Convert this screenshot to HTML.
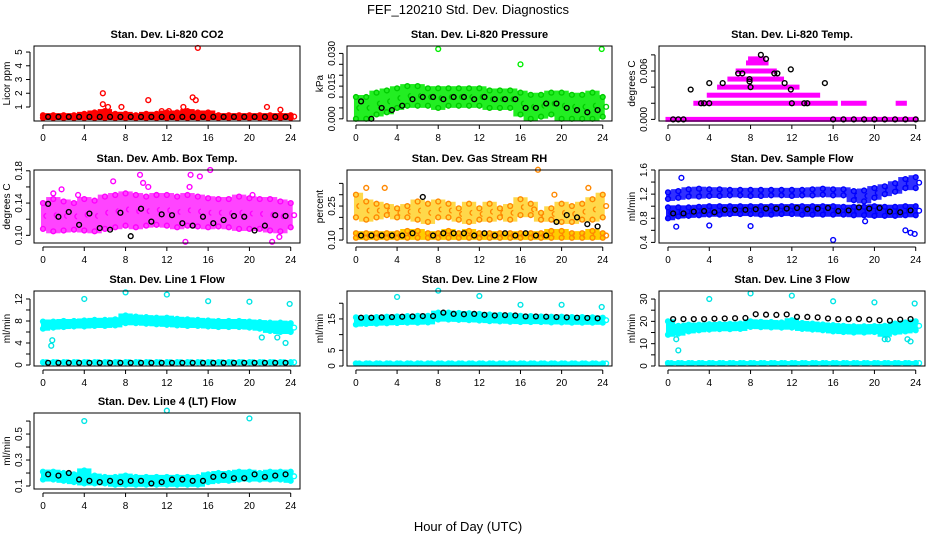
<!DOCTYPE html>
<html><head><meta charset="utf-8"><style>
body{margin:0;background:#fff;}
svg{display:block;font-family:"Liberation Sans",Arial,sans-serif;}
</style></head><body>
<svg id="chart" width="936" height="540" viewBox="0 0 936 540">
<text x="468" y="14" text-anchor="middle" font-size="13">FEF_120210  Std. Dev. Diagnostics</text>
<text x="468" y="531" text-anchor="middle" font-size="13">Hour of Day (UTC)</text>
</svg>
<script>
// ---- data ----
const hours = [0,1,2,3,4,5,6,7,8,9,10,11,12,13,14,15,16,17,18,19,20,21,22,23,24];
const blackHours = [0.5,1.5,2.5,3.5,4.5,5.5,6.5,7.5,8.5,9.5,10.5,11.5,12.5,13.5,14.5,15.5,16.5,17.5,18.5,19.5,20.5,21.5,22.5,23.5];
const xTicks = [0,4,8,12,16,20,24];

const co2Lo = [0.2,0.2,0.2,0.2,0.2,0.2,0.2,0.2,0.2,0.2,0.2,0.2,0.2,0.2,0.2,0.2,0.2,0.2,0.2,0.2,0.2,0.2,0.2,0.2,0.2];
const co2Hi = [0.4,0.4,0.4,0.4,0.5,0.6,0.7,0.5,0.5,0.4,0.5,0.5,0.6,0.6,0.7,0.6,0.6,0.4,0.4,0.4,0.4,0.4,0.4,0.4,0.4];
const co2Black = [0.28,0.28,0.28,0.28,0.28,0.28,0.28,0.28,0.28,0.28,0.28,0.28,0.28,0.28,0.28,0.28,0.28,0.28,0.28,0.28,0.28,0.28,0.28,0.28];
const co2OutT = [5.8,5.8,6.3,7.6,10.2,11.5,12.2,13.6,14.5,14.8,15,21.7,23];
const co2OutV = [2.0,1.2,1.0,1.0,1.5,0.7,0.7,1.0,1.7,1.5,5.3,1.0,0.8];

const presLo = [0,0,0.002,0.003,0.005,0.006,0.006,0.006,0.005,0.006,0.006,0.006,0.006,0.005,0.005,0.005,0.002,0,0.001,0.002,0,0,0,0,0.001];
const presHi = [0.010,0.010,0.012,0.013,0.014,0.015,0.015,0.014,0.014,0.014,0.014,0.014,0.014,0.013,0.013,0.013,0.012,0.011,0.011,0.012,0.012,0.011,0.011,0.012,0.010];
const presBlack = [0.008,0.000,0.005,0.004,0.006,0.009,0.010,0.010,0.009,0.010,0.010,0.009,0.010,0.009,0.009,0.009,0.005,0.005,0.007,0.007,0.005,0.004,0.003,0.004];
const presOutT = [8,16,23.9];
const presOutV = [0.032,0.025,0.032];

const tempRowV = [0,0.002,0.002,0.002,0.002,0.003,0.004,0.005,0.006,0.007,0.0075];
const tempRowStart = [0,2.7,12,17,22.3,4,5,6,6.8,7.8,8];
const tempRowEnd = [24,12,16.2,19,22.9,14.5,12.5,11,10.3,9.5,9.2];
const tempBlackT = [0.5,1,1.5,2.2,3.2,3.5,4,4,5.3,6.8,7.2,7.9,7.9,8,9,9.5,10.3,10.6,11.3,11.9,11.9,12,13.2,13.5,15.2,16,17,18,19,20,21,22,23,24];
const tempBlackV = [0,0,0,0.0037,0.002,0.002,0.002,0.0045,0.0045,0.0057,0.0057,0.005,0.0047,0.004,0.008,0.0075,0.0057,0.0057,0.0045,0.0062,0.0037,0.002,0.002,0.002,0.0045,0,0,0,0,0,0,0,0,0];

const ambLo = [0.108,0.105,0.106,0.107,0.106,0.105,0.108,0.110,0.112,0.110,0.112,0.113,0.112,0.110,0.112,0.111,0.110,0.111,0.110,0.108,0.108,0.108,0.106,0.105,0.110];
const ambHi = [0.140,0.145,0.142,0.140,0.145,0.143,0.148,0.150,0.152,0.150,0.148,0.150,0.150,0.148,0.150,0.148,0.146,0.145,0.145,0.148,0.146,0.145,0.145,0.142,0.140];
const ambBlack = [0.139,0.123,0.129,0.113,0.127,0.109,0.107,0.128,0.099,0.133,0.117,0.126,0.125,0.115,0.112,0.123,0.115,0.119,0.124,0.123,0.106,0.112,0.125,0.124];
const ambOutT = [1,1.8,3.4,6.8,9.4,9.7,10.2,11,14.2,14.3,15.2,16.2,13.8,20.3,22.2,22.9];
const ambOutV = [0.152,0.157,0.150,0.167,0.175,0.165,0.160,0.150,0.160,0.175,0.173,0.181,0.092,0.150,0.092,0.098];

const rhLo1 = [0.11,0.11,0.11,0.11,0.11,0.11,0.11,0.11,0.11,0.11,0.11,0.11,0.11,0.11,0.11,0.11,0.11,0.11,0.11,0.11,0.11,0.11,0.11,0.11,0.11];
const rhHi1 = [0.13,0.13,0.13,0.13,0.13,0.14,0.14,0.13,0.13,0.14,0.13,0.14,0.13,0.13,0.13,0.13,0.13,0.13,0.13,0.14,0.14,0.13,0.13,0.14,0.13];
const rhLo2 = [0.20,0.19,0.20,0.21,0.20,0.20,0.19,0.18,0.20,0.20,0.19,0.18,0.19,0.19,0.20,0.19,0.21,0.21,0.19,0.19,0.18,0.18,0.19,0.19,0.20];
const rhHi2 = [0.30,0.27,0.26,0.25,0.24,0.25,0.27,0.26,0.27,0.26,0.24,0.26,0.24,0.26,0.24,0.25,0.28,0.26,0.22,0.24,0.26,0.25,0.26,0.28,0.30];
const rhBlack = [0.12,0.12,0.12,0.12,0.12,0.13,0.29,0.12,0.13,0.13,0.13,0.12,0.13,0.12,0.13,0.12,0.13,0.12,0.12,0.18,0.21,0.20,0.17,0.16];
const rhOutT = [1,2.8,17.7,19.3,22.6];
const rhOutV = [0.33,0.33,0.41,0.30,0.33];

const sfLoA = [0.80,0.83,0.84,0.85,0.86,0.86,0.87,0.87,0.87,0.86,0.86,0.87,0.87,0.86,0.86,0.86,0.86,0.86,0.85,0.85,0.84,0.84,0.84,0.85,0.85];
const sfHiA = [0.98,0.98,0.98,0.99,1.00,1.00,1.00,1.00,1.00,1.00,1.00,1.00,1.00,1.00,1.00,1.00,1.00,0.99,0.99,0.99,1.00,0.99,0.99,1.00,1.00];
const sfLoB = [1.12,1.14,1.16,1.16,1.17,1.17,1.18,1.18,1.17,1.17,1.18,1.18,1.17,1.18,1.18,1.19,1.18,1.18,1.10,1.08,1.14,1.20,1.24,1.30,1.30];
const sfHiB = [1.23,1.25,1.28,1.29,1.28,1.28,1.27,1.27,1.27,1.27,1.27,1.27,1.27,1.27,1.28,1.29,1.28,1.28,1.25,1.26,1.30,1.33,1.38,1.45,1.48];
const sfBlack = [0.88,0.88,0.91,0.92,0.90,0.94,0.94,0.94,0.95,0.96,0.96,0.96,0.97,0.95,0.96,0.97,0.92,0.93,0.98,0.96,0.97,0.91,0.90,0.93];
const sfOutT = [0.8,1.3,4,8,16,19.1,23,23.5,23.9];
const sfOutV = [0.66,1.47,0.68,0.67,0.44,0.75,0.60,0.56,0.54];

const l1Lo = [6.6,6.8,6.9,7.0,7.0,7.1,7.1,7.2,7.6,7.6,7.5,7.4,7.3,7.2,7.1,7.1,7.0,6.9,6.9,6.9,6.8,6.6,6.2,6.0,6.0];
const l1Hi = [7.9,7.9,8.0,8.0,8.1,8.2,8.2,8.3,9.0,8.8,8.7,8.6,8.6,8.4,8.3,8.2,8.1,8.0,8.0,8.0,7.9,7.8,7.7,7.7,7.6];
const l1Base = [0.5,0.5,0.5,0.5,0.5,0.5,0.5,0.5,0.5,0.5,0.5,0.5,0.5,0.5,0.5,0.5,0.5,0.5,0.5,0.5,0.5,0.5,0.5,0.5,0.5];
const l1Black = [0.4,0.4,0.4,0.4,0.4,0.4,0.4,0.4,0.4,0.4,0.4,0.4,0.4,0.4,0.4,0.4,0.4,0.4,0.4,0.4,0.4,0.4,0.4,0.4];
const l1OutT = [4,8,12,16,20,23.9,0.8,0.9,21.2,22.7,23.5];
const l1OutV = [12,13.2,12.8,11.6,11.5,11.1,3.5,4.5,5,5,4];

const l2Lo = [13.2,13.4,13.5,13.6,13.7,13.8,13.8,13.9,14.8,14.8,14.7,14.6,14.5,14.3,14.2,14.1,14.0,14.0,14.0,13.9,13.9,13.8,13.8,13.8,13.8];
const l2Hi = [15.5,15.5,15.6,15.7,15.8,15.9,16.0,16.0,17.0,17.0,16.9,16.8,16.6,16.4,16.3,16.2,16.0,15.9,15.8,15.7,15.7,15.6,15.6,15.5,15.4];
const l2Base = [0.8,0.8,0.8,0.8,0.8,0.8,0.8,0.8,0.8,0.8,0.8,0.8,0.8,0.8,0.8,0.8,0.8,0.8,0.8,0.8,0.8,0.8,0.8,0.8,0.8];
const l2Black = [15.4,15.4,15.5,15.6,15.7,15.8,15.9,15.9,17.0,16.6,16.5,16.6,16.3,16.1,16.2,16.1,15.8,15.8,15.7,15.6,15.5,15.4,15.3,15.2];
const l2OutT = [4,8,12,16,20,23.9];
const l2OutV = [22,24,22.3,19.5,19.5,18.8];

const l3Lo = [14,14.5,15.5,16,16.3,16.5,16.5,16.6,17.5,17.4,17.3,17.2,17.2,16.6,16.3,16.0,15.5,15.2,15.0,15.0,15.2,14.0,15.0,15.5,16];
const l3Hi = [20,18,18.5,18.5,18.7,18.8,18.9,19.0,20.0,19.8,19.7,19.5,20.5,19.3,19.0,18.6,18.3,18.0,17.8,17.8,17.9,18.0,19.0,19.5,20];
const l3Base = [1.3,1.3,1.3,1.3,1.3,1.3,1.3,1.3,1.3,1.3,1.3,1.3,1.3,1.3,1.3,1.3,1.3,1.3,1.3,1.3,1.3,1.3,1.3,1.3,1.3];
const l3Black = [21,21,21,21,21.2,21.3,21.4,21.5,23.2,23,22.9,23.1,22,22,21.8,21.3,21,21,21.1,20.8,20.5,20.3,20.8,21];
const l3OutT = [4,8,12,16,20,23.9,0.8,1,21,21.3,23.2,23.5];
const l3OutV = [30,32.5,31.5,29,28.5,28,12,7,12,12,12,11];

const l4Lo = [0.15,0.15,0.14,0.13,0.12,0.12,0.12,0.11,0.11,0.11,0.11,0.11,0.11,0.11,0.11,0.11,0.13,0.14,0.14,0.15,0.15,0.15,0.15,0.15,0.14];
const l4Hi = [0.21,0.21,0.20,0.19,0.22,0.18,0.17,0.17,0.18,0.17,0.17,0.17,0.17,0.17,0.17,0.17,0.19,0.20,0.20,0.21,0.21,0.20,0.21,0.21,0.21];
const l4Black = [0.19,0.18,0.20,0.15,0.14,0.13,0.14,0.13,0.14,0.14,0.12,0.13,0.15,0.15,0.14,0.14,0.17,0.18,0.16,0.16,0.19,0.17,0.18,0.19];
const l4OutT = [4,12,20];
const l4OutV = [0.6,0.68,0.62];

// ---- layout ----
const svg = document.getElementById('chart');
const NS = 'http://www.w3.org/2000/svg';
const cols = [[34,300],[347,612],[659,925]];
const rows = [[46,121],[170,243],[291,366],[413,489]];
const XMIN = -0.87, XMAX = 24.9;

function mk(tag, attrs, parent){
  const e = document.createElementNS(NS, tag);
  for (const k in attrs) e.setAttribute(k, attrs[k]);
  (parent||svg).appendChild(e);
  return e;
}

function panel(opts){
  const [x0,x1] = cols[opts.col], [y0,y1] = rows[opts.row];
  const sx = v => x0 + (v - XMIN) / (XMAX - XMIN) * (x1 - x0);
  const sy = v => y1 - (v - opts.ymin) / (opts.ymax - opts.ymin) * (y1 - y0);
  const g = mk('g', {});
  
  
  const t = mk('text', {x:(x0+x1)/2, y:y0-8, 'text-anchor':'middle', 'font-size':11, 'font-weight':'bold'}, g);
  t.textContent = opts.title;
  
  
  const marks = mk('g', {}, g);
  
  
  const circ = (tv, v, col) => {
    const c = mk('circle', {cx:sx(tv), cy:sy(v), r:2.4, fill:'none', stroke:col, 'stroke-width':1.4}, marks);
    
    
  };
  (opts.bands||[]).forEach(b => {
    hours.forEach((h,i) => {
      const a = Math.max(0, h-0.5), z = Math.min(24, h+0.5);
      const lo = b.lo[i], hi = b.hi[i];
      const r = mk('rect', {x:sx(a)-2, y:sy(hi)-2, width:sx(z)-sx(a)+4, height:Math.max(4, sy(lo)-sy(hi)+4), fill:b.fill||b.color}, marks);
      
      
      circ(h, lo, b.color); circ(h, hi, b.color);
      circ(h+0.33, (lo+hi)/2, b.color);
    });
  });
  (opts.rowsSeg||[]).forEach(s => {
    const r = mk('rect', {x:sx(s.a)-2.5, y:sy(s.v)-2.5, width:sx(s.b)-sx(s.a)+5, height:5, fill:s.color, stroke:'none'}, marks);
    
    
  });
  (opts.out||[]).forEach(o => o.t.forEach((tv,i) => circ(tv, o.v[i], o.color)));
  (opts.black||[]).forEach(o => o.t.forEach((tv,i) => circ(tv, o.v[i], '#000')));
  // box
  const box = mk('rect', {x:x0, y:y0, width:x1-x0, height:y1-y0, fill:'none', stroke:'#000', 'stroke-width':1}, g);
  
  
  // x axis
  const xa = mk('g', {}, g);
  
  
  mk('line', {x1:sx(0), x2:sx(24), y1:y1+4, y2:y1+4, stroke:'#000'}, xa);
  xTicks.forEach(v => {
    mk('line', {x1:sx(v), x2:sx(v), y1:y1+4, y2:y1+8, stroke:'#000'}, xa);
    const tt = mk('text', {x:sx(v), y:y1+20, 'text-anchor':'middle', 'font-size':10}, xa);
    tt.textContent = v;
  });
  // y axis
  const ya = mk('g', {}, g);
  
  
  const yt = opts.yticks;
  mk('line', {x1:x0-4, x2:x0-4, y1:sy(yt[0]), y2:sy(yt[yt.length-1]), stroke:'#000'}, ya);
  yt.forEach(v => mk('line', {x1:x0-8, x2:x0-4, y1:sy(v), y2:sy(v), stroke:'#000'}, ya));
  opts.ylabels.forEach((v,i) => {
    const yy = sy(v), xx = x0-12;
    const tt = mk('text', {x:xx, y:yy, 'text-anchor':'middle', 'font-size':10, transform:`rotate(-90 ${xx} ${yy})`}, ya);
    tt.textContent = opts.ylabelText[i];
  });
  const yl = mk('text', {x:x0-24, y:(y0+y1)/2, 'text-anchor':'middle', 'font-size':10, transform:`rotate(-90 ${x0-24} ${(y0+y1)/2})`}, g);
  yl.textContent = opts.ylab;
  
  
}

panel({col:0,row:0,name:'co2',title:'Stan. Dev. Li-820 CO2',ylab:'Licor ppm',ymin:-0.02,ymax:5.44,
  yticks:[1,2,3,4,5],ylabels:[1,2,3,4,5],ylabelText:['1','2','3','4','5'],
  bands:[{lo:co2Lo,hi:co2Hi,color:'#ff0000'}],out:[{t:co2OutT,v:co2OutV,color:'#ff0000'}],black:[{t:blackHours,v:co2Black}]});
panel({col:1,row:0,name:'pressure',title:'Stan. Dev. Li-820 Pressure',ylab:'kPa',ymin:-0.001,ymax:0.0334,
  yticks:[0,0.005,0.01,0.015,0.02,0.025,0.03],ylabels:[0,0.015,0.03],ylabelText:['0.000','0.015','0.030'],
  bands:[{lo:presLo,hi:presHi,color:'#00cc00',fill:'#22ee22'}],out:[{t:presOutT,v:presOutV,color:'#00ee00'}],black:[{t:blackHours,v:presBlack}]});
panel({col:2,row:0,name:'li820-temp',title:'Stan. Dev. Li-820 Temp.',ylab:'degrees C',ymin:-0.0002,ymax:0.0091,
  yticks:[0,0.002,0.004,0.006,0.008],ylabels:[0,0.006],ylabelText:['0.000','0.006'],
  rowsSeg:tempRowV.map((v,i)=>({v:v,a:tempRowStart[i],b:tempRowEnd[i],color:'#ff00ff'})),
  black:[{t:tempBlackT,v:tempBlackV}]});
panel({col:0,row:1,name:'amb-box-temp',title:'Stan. Dev. Amb. Box Temp.',ylab:'degrees C',ymin:0.0905,ymax:0.181,
  yticks:[0.1,0.12,0.14,0.16,0.18],ylabels:[0.1,0.14,0.18],ylabelText:['0.10','0.14','0.18'],
  bands:[{lo:ambLo,hi:ambHi,color:'#ff00ff',fill:'#ff44ff'}],out:[{t:ambOutT,v:ambOutV,color:'#ff00ff'}],black:[{t:blackHours,v:ambBlack}]});
panel({col:1,row:1,name:'gas-stream-rh',title:'Stan. Dev. Gas Stream RH',ylab:'percent',ymin:0.087,ymax:0.409,
  yticks:[0.1,0.15,0.2,0.25,0.3,0.35],ylabels:[0.1,0.25],ylabelText:['0.10','0.25'],
  bands:[{lo:rhLo1,hi:rhHi1,color:'#ff8800',fill:'#ffcc00'},{lo:rhLo2,hi:rhHi2,color:'#ff8800',fill:'#ffd84a'}],
  out:[{t:rhOutT,v:rhOutV,color:'#ff8800'}],black:[{t:blackHours,v:rhBlack}]});
panel({col:2,row:1,name:'sample-flow',title:'Stan. Dev. Sample Flow',ylab:'ml/min',ymin:0.39,ymax:1.6,
  yticks:[0.4,0.6,0.8,1.0,1.2,1.4,1.6],ylabels:[0.4,0.8,1.2,1.6],ylabelText:['0.4','0.8','1.2','1.6'],
  bands:[{lo:sfLoA,hi:sfHiA,color:'#0000ff',fill:'#1a1aff'},{lo:sfLoB,hi:sfHiB,color:'#0000ff',fill:'#3030ff'}],
  out:[{t:sfOutT,v:sfOutV,color:'#0000ff'}],black:[{t:blackHours,v:sfBlack}]});
panel({col:0,row:2,name:'line1-flow',title:'Stan. Dev. Line 1 Flow',ylab:'ml/min',ymin:-0.18,ymax:13.45,
  yticks:[0,2,4,6,8,10,12],ylabels:[0,4,8,12],ylabelText:['0','4','8','12'],
  bands:[{lo:l1Lo,hi:l1Hi,color:'#00ffff'},{lo:l1Base,hi:l1Base,color:'#00ffff'}],out:[{t:l1OutT,v:l1OutV,color:'#00e5e5'}],black:[{t:blackHours,v:l1Black}]});
panel({col:1,row:2,name:'line2-flow',title:'Stan. Dev. Line 2 Flow',ylab:'ml/min',ymin:0,ymax:23.9,
  yticks:[0,5,10,15,20],ylabels:[0,5,15],ylabelText:['0','5','15'],
  bands:[{lo:l2Lo,hi:l2Hi,color:'#00ffff'},{lo:l2Base,hi:l2Base,color:'#00ffff'}],out:[{t:l2OutT,v:l2OutV,color:'#00e5e5'}],black:[{t:blackHours,v:l2Black}]});
panel({col:2,row:2,name:'line3-flow',title:'Stan. Dev. Line 3 Flow',ylab:'ml/min',ymin:0,ymax:33.6,
  yticks:[0,5,10,15,20,25,30],ylabels:[0,10,20,30],ylabelText:['0','10','20','30'],
  bands:[{lo:l3Lo,hi:l3Hi,color:'#00ffff'},{lo:l3Base,hi:l3Base,color:'#00ffff'}],out:[{t:l3OutT,v:l3OutV,color:'#00e5e5'}],black:[{t:blackHours,v:l3Black}]});
panel({col:0,row:3,name:'line4-flow',title:'Stan. Dev. Line 4 (LT) Flow',ylab:'ml/min',ymin:0.077,ymax:0.662,
  yticks:[0.1,0.2,0.3,0.4,0.5,0.6],ylabels:[0.1,0.3,0.5],ylabelText:['0.1','0.3','0.5'],
  bands:[{lo:l4Lo,hi:l4Hi,color:'#00ffff'}],out:[{t:l4OutT,v:l4OutV,color:'#00e5e5'}],black:[{t:blackHours,v:l4Black}]});
</script>
</body></html>
